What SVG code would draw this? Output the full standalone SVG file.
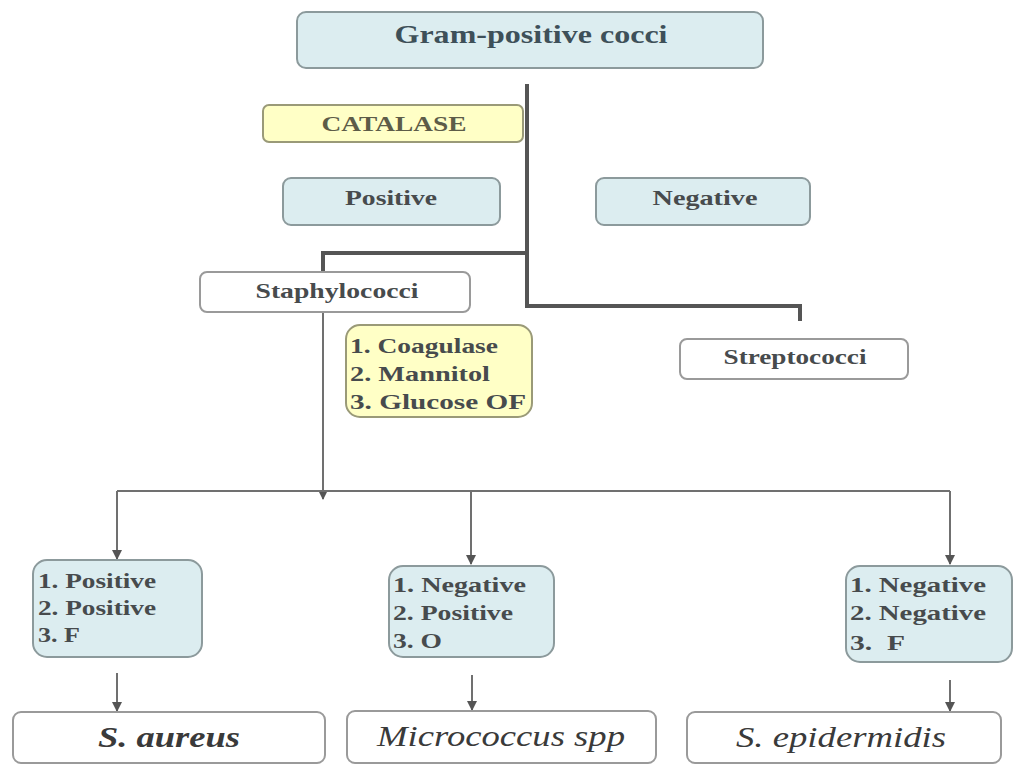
<svg xmlns="http://www.w3.org/2000/svg" width="1016" height="765" viewBox="0 0 1016 765">
<style>
.blue{fill:#dcedf0;stroke:#8c9a9c;stroke-width:2}
.yel{fill:#ffffc6;stroke:#9a9a78;stroke-width:2}
.wht{fill:#ffffff;stroke:#9a9a9a;stroke-width:2}
.t{font-family:'Liberation Serif','Times New Roman',Tinos,'Nimbus Roman',Times,serif;font-weight:bold;font-size:22px;fill:#474b4d}
.title{font-size:26px;fill:#3e5059}
.cat{fill:#5d5c48}
.it{font-family:'Liberation Serif','Times New Roman',Tinos,'Nimbus Roman',Times,serif;font-style:italic;font-size:30px;fill:#3a3a3a}
.thick{stroke:#555;stroke-width:4;fill:none}
.thin{stroke:#707070;stroke-width:2;fill:none}
</style>
<defs>
<marker id="ah" markerWidth="10" markerHeight="10" refX="9" refY="5" orient="auto" markerUnits="userSpaceOnUse">
<path d="M0,0 L10,5 L0,10 Z" fill="#555"/>
</marker>
</defs>
<rect width="1016" height="765" fill="#ffffff"/>
<g id="connectors">
<path class="thick" d="M527,84 V306 H800 V321"/>
<path class="thick" d="M527,253 H323 V272"/>
<path class="thin" d="M323,312 V499" marker-end="url(#ah)"/>
<path class="thin" d="M117,491 H950"/>
<path class="thin" d="M117,491 V559" marker-end="url(#ah)"/>
<path class="thin" d="M471,491 V564" marker-end="url(#ah)"/>
<path class="thin" d="M950,491 V564" marker-end="url(#ah)"/>
<path class="thin" d="M117,673 V711" marker-end="url(#ah)"/>
<path class="thin" d="M472,675 V710" marker-end="url(#ah)"/>
<path class="thin" d="M950,680 V711" marker-end="url(#ah)"/>
</g>
<g id="gram-positive-cocci">
<rect class="blue" x="297" y="12" width="466" height="56" rx="9"/>
<text class="t title" x="531" y="43" text-anchor="middle" textLength="273" lengthAdjust="spacingAndGlyphs">Gram-positive cocci</text>
</g>
<g id="catalase">
<rect class="yel" x="263" y="105" width="260" height="37" rx="6"/>
<text class="t cat" x="394" y="131" text-anchor="middle" textLength="145" lengthAdjust="spacingAndGlyphs">CATALASE</text>
</g>
<g id="positive">
<rect class="blue" x="283" y="178" width="217" height="47" rx="8"/>
<text class="t" x="391" y="205" text-anchor="middle" textLength="92" lengthAdjust="spacingAndGlyphs">Positive</text>
</g>
<g id="negative">
<rect class="blue" x="596" y="178" width="214" height="47" rx="8"/>
<text class="t" x="705" y="205" text-anchor="middle" textLength="105" lengthAdjust="spacingAndGlyphs">Negative</text>
</g>
<g id="staphylococci">
<rect class="wht" x="200" y="272" width="270" height="40" rx="7"/>
<text class="t" x="337" y="298" text-anchor="middle" textLength="163" lengthAdjust="spacingAndGlyphs">Staphylococci</text>
</g>
<g id="streptococci">
<rect class="wht" x="680" y="339" width="228" height="40" rx="7"/>
<text class="t" x="795" y="364" text-anchor="middle" textLength="143" lengthAdjust="spacingAndGlyphs">Streptococci</text>
</g>
<g id="tests">
<rect class="yel" x="346" y="325" width="186" height="92" rx="14"/>
<text class="t" x="350" y="353" textLength="148" lengthAdjust="spacingAndGlyphs">1. Coagulase</text>
<text class="t" x="350" y="381" textLength="140" lengthAdjust="spacingAndGlyphs">2. Mannitol</text>
<text class="t" x="350" y="409" textLength="176" lengthAdjust="spacingAndGlyphs">3. Glucose OF</text>
</g>
<g id="result-aureus">
<rect class="blue" x="33" y="560" width="169" height="97" rx="14"/>
<text class="t" x="38" y="588" textLength="118" lengthAdjust="spacingAndGlyphs">1. Positive</text>
<text class="t" x="38" y="615" textLength="118" lengthAdjust="spacingAndGlyphs">2. Positive</text>
<text class="t" x="38" y="642" textLength="42" lengthAdjust="spacingAndGlyphs">3. F</text>
</g>
<g id="result-micrococcus">
<rect class="blue" x="389" y="566" width="165" height="91" rx="14"/>
<text class="t" x="393" y="592" textLength="133" lengthAdjust="spacingAndGlyphs">1. Negative</text>
<text class="t" x="393" y="620" textLength="120" lengthAdjust="spacingAndGlyphs">2. Positive</text>
<text class="t" x="393" y="648" textLength="49" lengthAdjust="spacingAndGlyphs">3. O</text>
</g>
<g id="result-epidermidis">
<rect class="blue" x="846" y="566" width="166" height="96" rx="14"/>
<text class="t" x="850" y="592" textLength="136" lengthAdjust="spacingAndGlyphs">1. Negative</text>
<text class="t" x="850" y="620" textLength="136" lengthAdjust="spacingAndGlyphs">2. Negative</text>
<text class="t" x="850" y="650" textLength="55" lengthAdjust="spacingAndGlyphs" xml:space="preserve">3.  F</text>
</g>
<g id="s-aureus">
<rect class="wht" x="13" y="712" width="312" height="51" rx="8"/>
<text class="it" x="169" y="747" text-anchor="middle" font-weight="bold" textLength="142" lengthAdjust="spacingAndGlyphs">S. aureus</text>
</g>
<g id="micrococcus">
<rect class="wht" x="347" y="711" width="309" height="52" rx="8"/>
<text class="it" x="501" y="746" text-anchor="middle" textLength="248" lengthAdjust="spacingAndGlyphs">Micrococcus spp</text>
</g>
<g id="s-epidermidis">
<rect class="wht" x="687" y="712" width="314" height="51" rx="8"/>
<text class="it" x="841" y="747" text-anchor="middle" textLength="210" lengthAdjust="spacingAndGlyphs">S. epidermidis</text>
</g>
</svg>
